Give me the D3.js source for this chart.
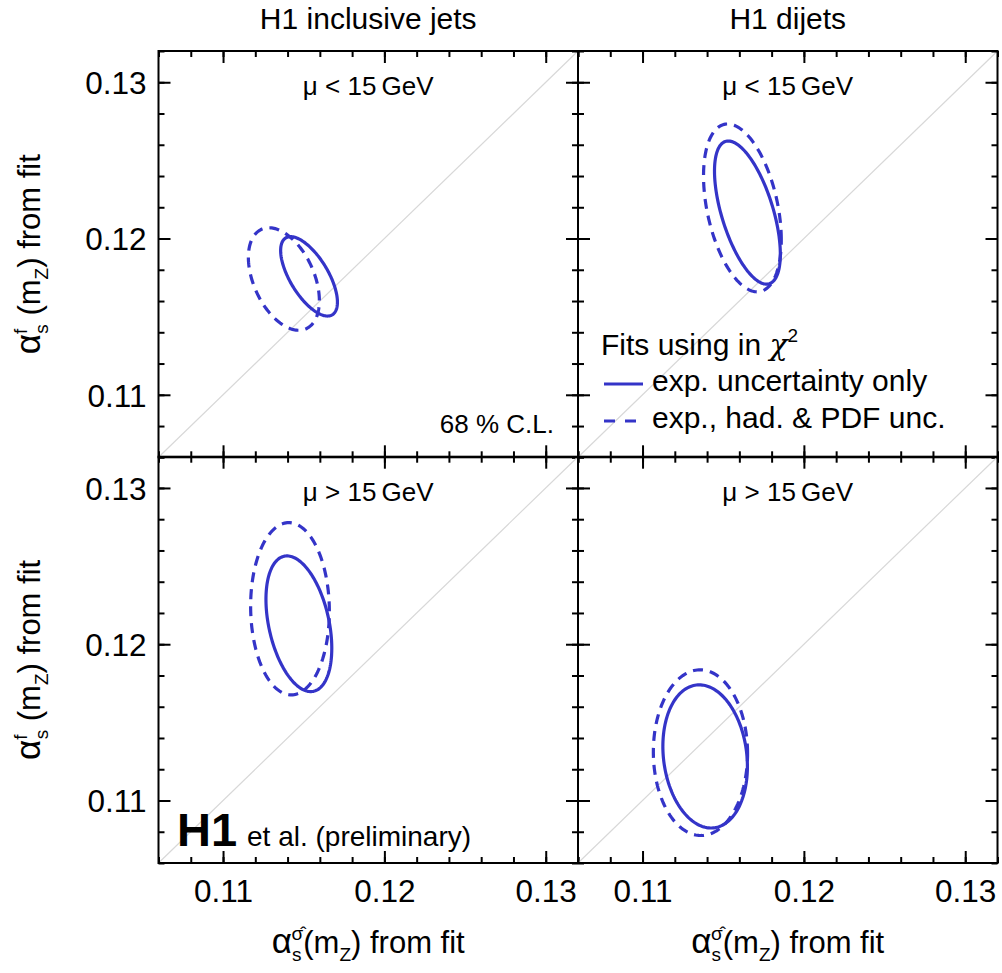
<!DOCTYPE html>
<html>
<head>
<meta charset="utf-8">
<script src="https://cdn.jsdelivr.net/npm/d3@7"></script>
<style>
  body { margin: 0; background: #fff; }
  text { font-family: "Liberation Sans", Arial, Helvetica, sans-serif; fill: #000; }
</style>
</head>
<body>
<svg id="chart" width="1002" height="973"></svg>
<script>
// ---- data ----
const columnTitles = ["H1 inclusive jets", "H1 dijets"];
const rowLabels = ["\u03bc < 15\u2009GeV", "\u03bc > 15\u2009GeV"];
const axisRange = [0.106, 0.132];
const majorTicks = [0.11, 0.12, 0.13];
const minorTicks = [0.106, 0.108, 0.110, 0.112, 0.114, 0.116, 0.118, 0.120,
                    0.122, 0.124, 0.126, 0.128, 0.130, 0.132];

// panels: [incl <15, dijet <15, incl >15, dijet >15]
// 68% CL contours: centre, half-width, half-height, correlation
const expCx  = [0.11533, 0.11650, 0.11470, 0.11388];
const expCy  = [0.11758, 0.12166, 0.12131, 0.11282];
const expSx  = [0.00176, 0.00204, 0.00204, 0.00262];
const expSy  = [0.00254, 0.00458, 0.00434, 0.00458];
const expRho = [-0.65, -0.58, -0.36, -0.14];

const fullCx  = [0.11377, 0.11619, 0.11415, 0.11359];
const fullCy  = [0.11741, 0.12196, 0.12227, 0.11306];
const fullSx  = [0.00220, 0.00241, 0.00244, 0.00292];
const fullSy  = [0.00328, 0.00537, 0.00551, 0.00530];
const fullRho = [-0.42, -0.38, -0.03, -0.01];

const legendTitle = "Fits using in ";
const legendItems = ["exp. uncertainty only", "exp., had. & PDF unc."];

// ---- layout ----
const svg = d3.select("#chart");
const panelLeft = [158.5, 578];
const panelTop = [51, 456.7];
const W = 419.5, H = 406.3;
const blue = "#3434c8";

function contour(cx, cy, sx, sy, rho) {
    const r = Math.sqrt(1 - rho * rho);
    return d3.range(0, 360, 2).map(a => {
        const t = a * Math.PI / 180;
        return [cx + sx * Math.cos(t), cy + sy * (rho * Math.cos(t) + r * Math.sin(t))];
    });
}

for (let row = 0; row < 2; row++) {
    for (let col = 0; col < 2; col++) {
        const i = row * 2 + col;
        const g = svg.append("g")
            .attr("transform", `translate(${panelLeft[col]},${panelTop[row]})`);

        const x = d3.scaleLinear().domain(axisRange).range([0, W]);
        const y = d3.scaleLinear().domain(axisRange).range([H, 0]);

        // diagonal
        g.append("line")
            .attr("x1", x(axisRange[0])).attr("y1", y(axisRange[0]))
            .attr("x2", x(axisRange[1])).attr("y2", y(axisRange[1]))
            .attr("stroke", "#d8d8d8").attr("stroke-width", 1.2);

        const line = d3.line().x(d => x(d[0])).y(d => y(d[1])).curve(d3.curveLinearClosed);

        g.append("path")
            .attr("d", line(contour(fullCx[i], fullCy[i], fullSx[i], fullSy[i], fullRho[i])))
            .attr("fill", "none").attr("stroke", blue).attr("stroke-width", 3.2)
            .attr("stroke-dasharray", "10,7");
        g.append("path")
            .attr("d", line(contour(expCx[i], expCy[i], expSx[i], expSy[i], expRho[i])))
            .attr("fill", "none").attr("stroke", blue).attr("stroke-width", 3.2);

        // ticks on all four sides, pointing inward
        const fmt = d3.format(".2f");
        const showX = row === 1, showY = col === 0;
        const axes = [
            [() => d3.axisBottom(x), `translate(0,${H})`, showX, 17],
            [() => d3.axisTop(x), "translate(0,0)", false, 12],
            [() => d3.axisLeft(y), "translate(0,0)", showY, 12],
            [() => d3.axisRight(y), `translate(${W},0)`, false, 12]
        ];
        axes.forEach(([mk, tr, labels, pad]) => {
            g.append("g").attr("transform", tr)
                .call(mk().tickValues(minorTicks).tickSize(-6).tickFormat(""))
                .call(a => a.select(".domain").remove())
                .selectAll("line").attr("stroke", "#000").attr("stroke-width", 2);
            const mg = g.append("g").attr("transform", tr)
                .call(mk().tickValues(majorTicks).tickSize(-12).tickPadding(pad)
                    .tickFormat(labels ? fmt : ""))
                .call(a => a.select(".domain").remove());
            mg.selectAll("line").attr("stroke", "#000").attr("stroke-width", 2);
            mg.attr("font-size", "31.5px").attr("font-family", null);
            mg.selectAll("text").attr("dy", (d, j, n) =>
                n[j].parentNode.parentNode.getAttribute("text-anchor") === "end" ? "0.36em" : "0.71em");
        });

        // frame
        g.append("rect").attr("width", W).attr("height", H)
            .attr("fill", "none").attr("stroke", "#000").attr("stroke-width", 2);

        // scale label
        g.append("text")
            .attr("x", W / 2).attr("y", 44)
            .attr("text-anchor", "middle").attr("font-size", "26px")
            .text(rowLabels[row]);
    }
}

// column titles
columnTitles.forEach((t, c) => {
    svg.append("text")
        .attr("x", panelLeft[c] + W / 2).attr("y", 29)
        .attr("text-anchor", "middle").attr("font-size", "30px")
        .text(t);
});

// y axis labels
panelTop.forEach(top => {
    const t = svg.append("text")
        .attr("transform", `translate(40,${top + H / 2}) rotate(-90)`)
        .attr("text-anchor", "middle").attr("font-size", "31px");
    t.append("tspan").attr("font-size", "35px").text("\u03b1");
    t.append("tspan").attr("font-size", "19px").attr("dy", -13).text("f");
    t.append("tspan").attr("font-size", "19px").attr("dx", -5).attr("dy", 21).text("s");
    t.append("tspan").attr("dy", -8).text(" (m");
    t.append("tspan").attr("font-size", "19px").attr("dy", 8).text("Z");
    t.append("tspan").attr("dy", -8).text(") from fit");
});

// x axis labels
panelLeft.forEach(left => {
    const t = svg.append("text")
        .attr("x", left + W / 2).attr("y", 953)
        .attr("text-anchor", "middle").attr("font-size", "31px");
    t.append("tspan").attr("font-size", "35px").text("\u03b1");
    t.append("tspan").attr("font-size", "19px").attr("dy", 8).text("s");
    t.append("tspan").attr("font-size", "19px").attr("dx", -10).attr("dy", -21).text("\u03c3\u0302");
    t.append("tspan").attr("dy", 13).text("(m");
    t.append("tspan").attr("font-size", "19px").attr("dy", 8).text("Z");
    t.append("tspan").attr("dy", -8).text(") from fit");
});

// annotations
svg.append("text")
    .attr("x", 554).attr("y", 433)
    .attr("text-anchor", "end").attr("font-size", "26px")
    .text("68 % C.L.");

svg.append("text")
    .attr("x", 177).attr("y", 846)
    .attr("font-size", "47px").attr("font-weight", "bold")
    .text("H1");
svg.append("text")
    .attr("x", 247).attr("y", 846)
    .attr("font-size", "28px")
    .text("et al. (preliminary)");

// legend
const lg = svg.append("g");
const lt = lg.append("text").attr("x", 601).attr("y", 355).attr("font-size", "30px");
lt.append("tspan").text(legendTitle);
lt.append("tspan").attr("font-style", "italic").attr("font-family", "DejaVu Serif").text("\u03c7");
lt.append("tspan").attr("font-size", "19px").attr("dy", -13).text("2");

const legendY = [384, 421];
const legendBase = [391, 428];
legendItems.forEach((label, k) => {
    lg.append("line")
        .attr("x1", 604).attr("x2", k === 0 ? 643 : 637)
        .attr("y1", legendY[k]).attr("y2", legendY[k])
        .attr("stroke", blue).attr("stroke-width", 3)
        .attr("stroke-dasharray", k === 0 ? null : "11,10");
    lg.append("text")
        .attr("x", 652).attr("y", legendBase[k])
        .attr("font-size", "30px")
        .text(label);
});
</script>
</body>
</html>
